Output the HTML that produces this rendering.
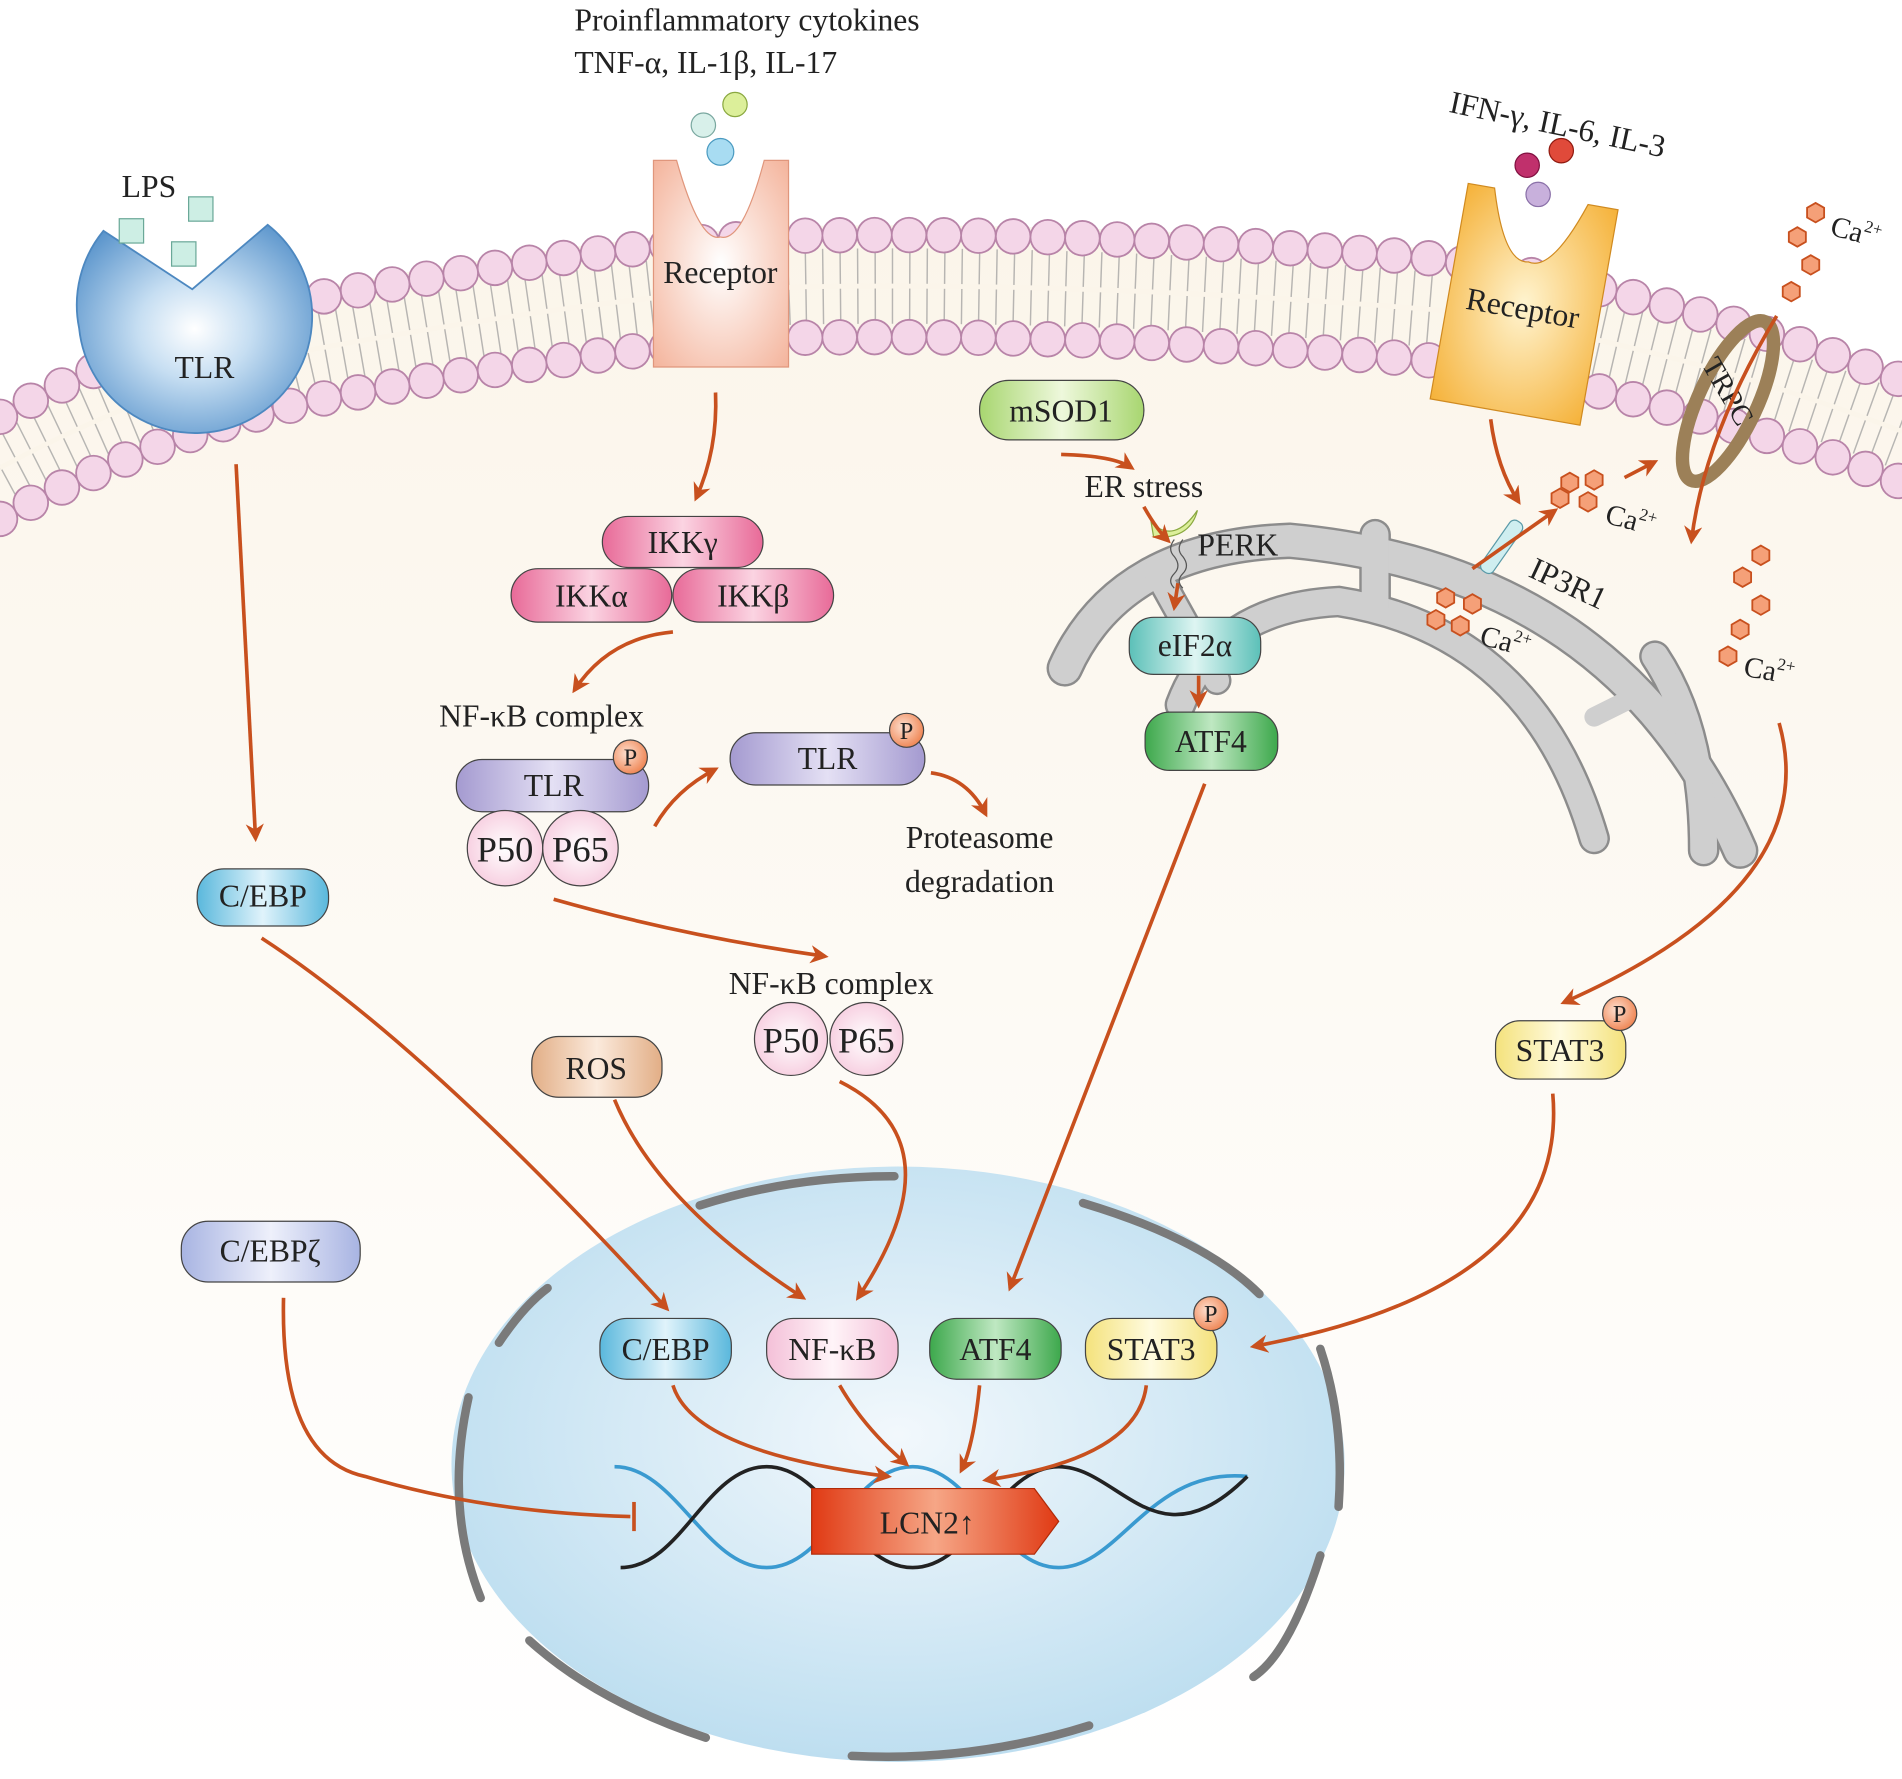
<!DOCTYPE html>
<html><head><meta charset="utf-8">
<style>
html,body{margin:0;padding:0;background:#fff;}
svg{display:block;}
text{font-family:"Liberation Serif",serif;fill:#222;}
</style></head>
<body>
<svg width="1902" height="1779" viewBox="0 0 1563 1464" preserveAspectRatio="none" xmlns="http://www.w3.org/2000/svg" xmlns:xlink="http://www.w3.org/1999/xlink" font-family="Liberation Serif, serif">
<defs>
<linearGradient id="cyto" x1="0" y1="0" x2="0" y2="1"><stop offset="0" stop-color="#fbf5ea"/><stop offset="1" stop-color="#ffffff"/></linearGradient>
<radialGradient id="nuc" cx="0.5" cy="0.45" r="0.6"><stop offset="0" stop-color="#f2f8fc"/><stop offset="1" stop-color="#b9dcef"/></radialGradient>
<radialGradient id="tlr" cx="0.5" cy="0.5" r="0.6"><stop offset="0" stop-color="#ffffff"/><stop offset="0.4" stop-color="#c6def2"/><stop offset="1" stop-color="#5b95cc"/></radialGradient>
<radialGradient id="rec1" cx="0.5" cy="0.5" r="0.7"><stop offset="0" stop-color="#fff"/><stop offset="1" stop-color="#f4b49c"/></radialGradient>
<radialGradient id="rec2" cx="0.5" cy="0.5" r="0.7"><stop offset="0" stop-color="#fff4d0"/><stop offset="1" stop-color="#f5b23a"/></radialGradient>
<linearGradient id="lcn" x1="0" y1="0" x2="1" y2="0"><stop offset="0" stop-color="#e03a14"/><stop offset="0.5" stop-color="#f6a686"/><stop offset="1" stop-color="#e03a14"/></linearGradient>
<linearGradient id="gPink" x1="0" y1="0" x2="1" y2="0"><stop offset="0" stop-color="#e86a98"/><stop offset="0.5" stop-color="#fbd4e2"/><stop offset="1" stop-color="#e86a98"/></linearGradient>
<linearGradient id="gPurp" x1="0" y1="0" x2="1" y2="0"><stop offset="0" stop-color="#a49ad0"/><stop offset="0.5" stop-color="#e4e0f4"/><stop offset="1" stop-color="#a49ad0"/></linearGradient>
<linearGradient id="gBlue" x1="0" y1="0" x2="1" y2="0"><stop offset="0" stop-color="#5ab8dc"/><stop offset="0.5" stop-color="#e0f3fb"/><stop offset="1" stop-color="#5ab8dc"/></linearGradient>
<linearGradient id="gGreen" x1="0" y1="0" x2="1" y2="0"><stop offset="0" stop-color="#3da84c"/><stop offset="0.5" stop-color="#bfe8c2"/><stop offset="1" stop-color="#3da84c"/></linearGradient>
<linearGradient id="gLG" x1="0" y1="0" x2="1" y2="0"><stop offset="0" stop-color="#a8d670"/><stop offset="0.5" stop-color="#eef8dc"/><stop offset="1" stop-color="#a8d670"/></linearGradient>
<linearGradient id="gTeal" x1="0" y1="0" x2="1" y2="0"><stop offset="0" stop-color="#5cc0b8"/><stop offset="0.5" stop-color="#def5f2"/><stop offset="1" stop-color="#5cc0b8"/></linearGradient>
<linearGradient id="gYel" x1="0" y1="0" x2="1" y2="0"><stop offset="0" stop-color="#f4e27c"/><stop offset="0.5" stop-color="#fffbe0"/><stop offset="1" stop-color="#f4e27c"/></linearGradient>
<linearGradient id="gTan" x1="0" y1="0" x2="1" y2="0"><stop offset="0" stop-color="#e2ae86"/><stop offset="0.5" stop-color="#fbeadc"/><stop offset="1" stop-color="#e2ae86"/></linearGradient>
<linearGradient id="gLav" x1="0" y1="0" x2="1" y2="0"><stop offset="0" stop-color="#a8b4e2"/><stop offset="0.5" stop-color="#eef0fb"/><stop offset="1" stop-color="#a8b4e2"/></linearGradient>
<linearGradient id="gLP" x1="0" y1="0" x2="1" y2="0"><stop offset="0" stop-color="#f4c0d8"/><stop offset="0.5" stop-color="#fff4f8"/><stop offset="1" stop-color="#f4c0d8"/></linearGradient>
<radialGradient id="gP" cx="0.4" cy="0.4" r="0.6"><stop offset="0" stop-color="#fde0d0"/><stop offset="1" stop-color="#f08a5a"/></radialGradient>
<radialGradient id="gPP" cx="0.5" cy="0.5" r="0.6"><stop offset="0" stop-color="#fff"/><stop offset="1" stop-color="#f6c8dc"/></radialGradient>
<marker id="ar" viewBox="0 0 10 10" refX="8" refY="5" markerWidth="5" markerHeight="5" orient="auto"><path d="M0,0 L10,5 L0,10 L3,5 z" fill="#c8501e"/></marker>
<polygon id="hex" points="7,4 0,8 -7,4 -7,-4 0,-8 7,-4" fill="#f5a078" stroke="#c8501e" stroke-width="1.5"/>
</defs>

<path fill="url(#cyto)" d="M0,335 Q130,265 260,237 Q520,190 660,186 Q900,182 1180,205 Q1380,235 1563,305 L1563,1464 L0,1464 z"/>

<g fill="none">
<path d="M0,385 Q130,315 260,287 Q520,240 660,236 Q900,232 1180,255 Q1380,285 1563,355" stroke="#9a9a9a" stroke-width="62" stroke-dasharray="1.2 13.05" opacity="0.7"/>
<path d="M0,385 Q130,315 260,287 Q520,240 660,236 Q900,232 1180,255 Q1380,285 1563,355" stroke="#fbf5ea" stroke-width="4"/>
<path d="M0,343 Q130,273 260,245 Q520,198 660,194 Q900,190 1180,213 Q1380,243 1563,313" stroke="#b884a8" stroke-width="30" stroke-dasharray="0 28.5" stroke-linecap="round"/>
<path d="M0,343 Q130,273 260,245 Q520,198 660,194 Q900,190 1180,213 Q1380,243 1563,313" stroke="#f4d6e8" stroke-width="27" stroke-dasharray="0 28.5" stroke-linecap="round"/>
<path d="M0,427 Q130,357 260,329 Q520,282 660,278 Q900,274 1180,297 Q1380,327 1563,397" stroke="#b884a8" stroke-width="30" stroke-dasharray="0 28.5" stroke-linecap="round"/>
<path d="M0,427 Q130,357 260,329 Q520,282 660,278 Q900,274 1180,297 Q1380,327 1563,397" stroke="#f4d6e8" stroke-width="27" stroke-dasharray="0 28.5" stroke-linecap="round"/>
</g>

<path d="M65,270 A96,96 0 1 0 220,185 L158,238 L85,190 A96,96 0 0 0 65,270z" fill="url(#tlr)" stroke="#4d88c0" stroke-width="1.5"/>
<text x="168" y="311" font-size="26" text-anchor="middle">TLR</text>
<text x="100" y="162" font-size="26">LPS</text>
<rect x="98" y="180" width="20" height="20" fill="#cdeee4" stroke="#6aa898"/>
<rect x="155" y="162" width="20" height="20" fill="#cdeee4" stroke="#6aa898"/>
<rect x="141" y="199" width="20" height="20" fill="#cdeee4" stroke="#6aa898"/>

<path d="M537,132 L556,132 Q575,200 592,195 Q610,200 628,132 L648,132 L648,302 L537,302 z" fill="url(#rec1)" stroke="#e0967c"/>
<text x="592" y="233" font-size="26" text-anchor="middle">Receptor</text>
<circle cx="604" cy="86" r="10" fill="#dcef9a" stroke="#8aa840"/>
<circle cx="578" cy="103" r="10" fill="#d8f0ea" stroke="#7aa8a0"/>
<circle cx="592" cy="125" r="11" fill="#a8dcf2" stroke="#4a9ac0"/>
<text x="472" y="25" font-size="26">Proinflammatory cytokines</text>
<text x="472" y="60" font-size="26">TNF-α, IL-1β, IL-17</text>

<g transform="rotate(10 1250 250)">
<path d="M1190,160 L1212,160 Q1230,220 1250,215 Q1270,220 1290,160 L1315,160 L1315,340 L1190,340 z" fill="url(#rec2)" stroke="#d08a20"/>
<text x="1252" y="262" font-size="26" text-anchor="middle">Receptor</text>
</g>
<circle cx="1255" cy="136" r="10" fill="#c0306c" stroke="#801040"/>
<circle cx="1283" cy="124" r="10" fill="#e04a3a" stroke="#901a10"/>
<circle cx="1264" cy="160" r="10" fill="#c8b0dc" stroke="#8a70a8"/>
<text x="1190" y="92" font-size="26" transform="rotate(12 1190 92)">IFN-γ, IL-6, IL-3</text>

<ellipse cx="1420" cy="330" rx="24" ry="72" transform="rotate(25 1420 330)" fill="none" stroke="#9c8058" stroke-width="11"/>
<text x="1398" y="300" font-size="24" transform="rotate(60 1398 300)">TRPC</text>

<g fill="none" stroke-linecap="round">
<g stroke="#8c8c8c">
<path d="M875,550 Q920,450 1060,445 Q1330,470 1430,700" stroke-width="30"/>
<path d="M970,580 Q1000,500 1100,495 Q1260,520 1310,690" stroke-width="26"/>
<path d="M1360,540 Q1400,600 1400,700" stroke-width="26"/>
<path d="M1130,440 L1130,500" stroke-width="26"/>
<path d="M950,470 L1000,560" stroke-width="24"/>
</g>
<g stroke="#cfcfcf">
<path d="M875,550 Q920,450 1060,445 Q1330,470 1430,700" stroke-width="26"/>
<path d="M970,580 Q1000,500 1100,495 Q1260,520 1310,690" stroke-width="22"/>
<path d="M1360,540 Q1400,600 1400,700" stroke-width="22"/>
<path d="M1130,440 L1130,500" stroke-width="22"/>
<path d="M1350,570 L1310,590" stroke-width="16"/>
<path d="M950,470 L1000,560" stroke-width="20"/>
</g>
</g>

<ellipse cx="738" cy="1205" rx="367" ry="245" fill="url(#nuc)"/>
<g fill="none" stroke="#7a7a7a" stroke-width="7" stroke-linecap="round">
<path d="M575,992 Q650,968 735,968"/>
<path d="M890,990 Q990,1020 1035,1065"/>
<path d="M1085,1110 Q1105,1170 1100,1240"/>
<path d="M1085,1280 Q1060,1360 1030,1380"/>
<path d="M895,1420 Q800,1450 700,1445"/>
<path d="M580,1430 Q490,1400 435,1350"/>
<path d="M395,1315 Q365,1240 385,1150"/>
<path d="M410,1105 Q430,1075 450,1060"/>
</g>

<path d="M505,1207 C555,1207 580,1290 630,1290 C680,1290 700,1207 750,1207 C800,1207 820,1290 870,1290 C920,1290 945,1207 1025,1215" fill="none" stroke="#3a9ad0" stroke-width="3"/>
<path d="M510,1290 C560,1290 580,1207 630,1207 C680,1207 700,1290 750,1290 C800,1290 820,1207 870,1207 C920,1207 950,1290 1025,1215" fill="none" stroke="#222" stroke-width="3"/>
<path d="M667,1225 L850,1225 L870,1252 L850,1279 L667,1279 z" fill="url(#lcn)" stroke="#b02a08"/>
<text x="762" y="1262" font-size="26" text-anchor="middle">LCN2↑</text>

<g stroke="#444" stroke-width="1">
<rect x="495" y="425" width="132" height="42" rx="21" fill="url(#gPink)"/>
<rect x="420" y="468" width="132" height="44" rx="22" fill="url(#gPink)"/>
<rect x="553" y="468" width="132" height="44" rx="22" fill="url(#gPink)"/>
<rect x="375" y="625" width="158" height="43" rx="21" fill="url(#gPurp)"/>
<rect x="600" y="603" width="160" height="43" rx="21" fill="url(#gPurp)"/>
<circle cx="415" cy="698" r="31" fill="url(#gPP)"/>
<circle cx="477" cy="698" r="31" fill="url(#gPP)"/>
<circle cx="650" cy="855" r="30" fill="url(#gPP)"/>
<circle cx="712" cy="855" r="30" fill="url(#gPP)"/>
<rect x="805" y="313" width="135" height="49" rx="24" fill="url(#gLG)"/>
<rect x="928" y="508" width="108" height="47" rx="20" fill="url(#gTeal)"/>
<rect x="941" y="586" width="109" height="48" rx="20" fill="url(#gGreen)"/>
<rect x="162" y="715" width="108" height="47" rx="22" fill="url(#gBlue)"/>
<rect x="437" y="853" width="107" height="50" rx="22" fill="url(#gTan)"/>
<rect x="149" y="1005" width="147" height="50" rx="22" fill="url(#gLav)"/>
<rect x="1229" y="840" width="107" height="48" rx="20" fill="url(#gYel)"/>
<rect x="493" y="1085" width="108" height="50" rx="22" fill="url(#gBlue)"/>
<rect x="630" y="1085" width="108" height="50" rx="22" fill="url(#gLP)"/>
<rect x="764" y="1085" width="108" height="50" rx="22" fill="url(#gGreen)"/>
<rect x="892" y="1085" width="108" height="50" rx="22" fill="url(#gYel)"/>
<circle cx="518" cy="623" r="14" fill="url(#gP)"/>
<circle cx="745" cy="601" r="14" fill="url(#gP)"/>
<circle cx="1331" cy="834" r="14" fill="url(#gP)"/>
<circle cx="995" cy="1081" r="14" fill="url(#gP)"/>
</g>
<g font-size="26" text-anchor="middle">
<text x="561" y="455">IKKγ</text>
<text x="486" y="499">IKKα</text>
<text x="619" y="499">IKKβ</text>
<text x="455" y="655">TLR</text>
<text x="680" y="633">TLR</text>
<text x="415" y="709" font-size="30">P50</text>
<text x="477" y="709" font-size="30">P65</text>
<text x="650" y="866" font-size="30">P50</text>
<text x="712" y="866" font-size="30">P65</text>
<text x="872" y="347">mSOD1</text>
<text x="982" y="540">eIF2α</text>
<text x="995" y="619">ATF4</text>
<text x="216" y="746">C/EBP</text>
<text x="490" y="888">ROS</text>
<text x="222" y="1038">C/EBPζ</text>
<text x="1282" y="873">STAT3</text>
<text x="547" y="1119">C/EBP</text>
<text x="684" y="1119">NF-κB</text>
<text x="818" y="1119">ATF4</text>
<text x="946" y="1119">STAT3</text>
<text x="445" y="598">NF-κB complex</text>
<text x="683" y="818">NF-κB complex</text>
<text x="805" y="698">Proteasome</text>
<text x="805" y="734">degradation</text>
<text x="940" y="409">ER stress</text>
</g>
<g font-size="20" text-anchor="middle"><text x="518" y="630">P</text><text x="745" y="608">P</text><text x="1331" y="841">P</text><text x="995" y="1088">P</text></g>
<text x="984" y="457" font-size="26">PERK</text>
<text x="1255" y="474" font-size="26" transform="rotate(25 1255 474)">IP3R1</text>
<path d="M946,430 Q965,448 984,420 Q978,444 948,442z" fill="#dcef9a" stroke="#8aa840"/>
<path d="M965,444 q-6,8 0,14 q6,8 0,14 q-6,6 0,12 M972,444 q-6,8 0,14 q6,8 0,14 q-6,6 0,12" fill="none" stroke="#555" stroke-width="1"/>
<rect x="1228" y="425" width="12" height="50" rx="5" transform="rotate(35 1234 450)" fill="#cfeef0" stroke="#5a9aa8"/>

<use xlink:href="#hex" x="1492" y="175"/><use xlink:href="#hex" x="1477" y="195"/><use xlink:href="#hex" x="1488" y="218"/><use xlink:href="#hex" x="1472" y="240"/>
<use xlink:href="#hex" x="1290" y="397"/><use xlink:href="#hex" x="1310" y="395"/><use xlink:href="#hex" x="1282" y="410"/><use xlink:href="#hex" x="1305" y="413"/>
<use xlink:href="#hex" x="1188" y="492"/><use xlink:href="#hex" x="1210" y="497"/><use xlink:href="#hex" x="1180" y="510"/><use xlink:href="#hex" x="1200" y="515"/>
<use xlink:href="#hex" x="1447" y="457"/><use xlink:href="#hex" x="1432" y="475"/><use xlink:href="#hex" x="1447" y="498"/><use xlink:href="#hex" x="1430" y="518"/><use xlink:href="#hex" x="1420" y="540"/>
<g font-size="24">
<text x="1503" y="193" transform="rotate(15 1503 193)">Ca<tspan font-size="14" dy="-10">2+</tspan></text>
<text x="1318" y="430" transform="rotate(15 1318 430)">Ca<tspan font-size="14" dy="-10">2+</tspan></text>
<text x="1215" y="530" transform="rotate(15 1215 530)">Ca<tspan font-size="14" dy="-10">2+</tspan></text>
<text x="1432" y="556" transform="rotate(10 1432 556)">Ca<tspan font-size="14" dy="-10">2+</tspan></text>
</g>

<g fill="none" stroke="#c8501e" stroke-width="3" marker-end="url(#ar)">
<path d="M194,382 L210,690"/>
<path d="M588,323 Q590,370 572,410"/>
<path d="M553,520 Q500,525 472,568"/>
<path d="M538,680 Q555,650 588,633"/>
<path d="M765,636 Q795,640 810,670"/>
<path d="M455,740 Q560,770 678,787"/>
<path d="M872,374 Q915,375 930,385"/>
<path d="M940,417 Q950,435 960,445"/>
<path d="M968,480 L965,500"/>
<path d="M985,556 L985,580"/>
<path d="M1225,345 Q1230,385 1248,413"/>
<path d="M1210,468 L1278,420"/>
<path d="M1335,393 L1360,380"/>
<path d="M1460,260 Q1400,360 1390,445"/>
<path d="M1462,595 Q1500,730 1285,825"/>
<path d="M1276,900 Q1290,1060 1030,1108"/>
<path d="M990,645 L830,1060"/>
<path d="M215,772 Q350,860 548,1077"/>
<path d="M505,905 Q540,990 660,1068"/>
<path d="M690,890 Q790,940 705,1068"/>
<path d="M553,1140 Q570,1195 730,1215"/>
<path d="M690,1140 Q710,1175 745,1205"/>
<path d="M805,1140 Q800,1190 790,1210"/>
<path d="M942,1140 Q935,1200 810,1218"/>
</g>
<path d="M233,1068 Q230,1200 300,1215 Q400,1245 518,1248" fill="none" stroke="#c8501e" stroke-width="3"/>
<line x1="521" y1="1236" x2="521" y2="1260" stroke="#c8501e" stroke-width="3"/>
</svg>
</body></html>
